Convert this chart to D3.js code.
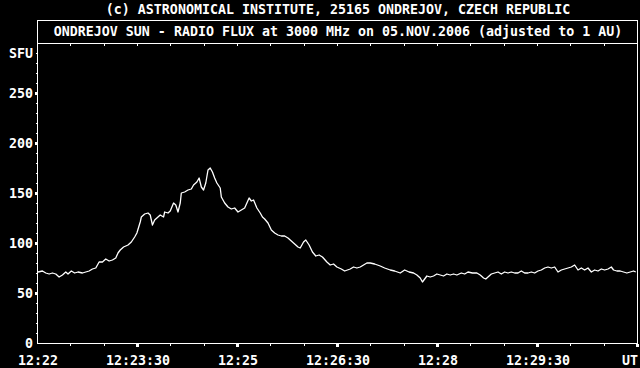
<!DOCTYPE html>
<html>
<head>
<meta charset="utf-8">
<script src="https://cdn.jsdelivr.net/npm/d3@7"></script>
<style>
  html, body { margin: 0; padding: 0; background: #000; }
  #container { width: 640px; height: 368px; overflow: hidden; }
  text { font-family: "DejaVu Sans Mono", "Liberation Mono", monospace; font-size: 13.3px; font-weight: bold; fill: #fff; }
</style>
</head>
<body>
<div id="container"></div>
<script>
// seconds after 12:22:00 UT
const seconds = [0, 4, 7, 10, 13, 16, 19, 22, 25, 27, 30, 33, 36, 40, 43, 46, 49, 52, 55, 58,
  61, 64, 67, 70, 72, 74, 77, 81, 84, 87, 89, 92, 93, 96, 99, 101, 103, 105, 108, 110,
  113, 114, 117, 119, 122, 124, 126, 128, 129, 132, 135, 138, 140, 143, 145, 147, 149, 151, 153, 155,
  157, 159, 161, 164, 165, 168, 171, 174, 177, 180, 183, 186, 188, 190, 192, 194, 197, 200, 202, 204,
  207, 210, 213, 216, 219, 222, 225, 228, 231, 234, 236, 239, 241, 244, 247, 250, 253, 256, 260, 263,
  266, 269, 273, 276, 281, 284, 287, 290, 293, 296, 299, 303, 308, 312, 317, 321, 326, 330, 334, 338,
  341, 344, 346, 348, 350, 353, 356, 359, 362, 365, 368, 371, 374, 377, 381, 384, 387, 391, 395, 398,
  401, 403, 405, 408, 411, 414, 417, 420, 423, 426, 429, 432, 435, 438, 441, 444, 447, 450, 453, 456,
  459, 462, 465, 468, 471, 474, 477, 480, 483, 486, 489, 492, 495, 498, 501, 504, 507, 510, 513, 516,
  518, 521, 524, 527, 530, 533, 536, 538];
// radio flux, SFU
const flux = [71, 72, 70, 69, 70, 69, 66, 68, 71, 69, 72, 70, 71, 70, 71, 72, 74, 75, 81, 81,
  84, 82, 83, 85, 90, 93, 96, 98, 101, 106, 110, 121, 126, 129, 130, 128, 118, 123, 126, 128,
  126, 131, 130, 132, 140, 138, 131, 140, 150, 151, 153, 154, 158, 161, 165, 156, 153, 160, 173, 175,
  171, 165, 160, 155, 146, 140, 136, 134, 135, 131, 133, 135, 140, 145, 142, 143, 135, 130, 126, 124,
  120, 113, 110, 108, 107, 107, 105, 102, 99, 96, 95, 101, 103, 98, 91, 87, 88, 86, 81, 78,
  79, 76, 74, 72, 74, 76, 75, 76, 78, 80, 80, 79, 77, 75, 73, 72, 70, 73, 71, 70,
  68, 65, 61, 64, 67, 66, 67, 69, 68, 67, 69, 68, 69, 68, 70, 69, 71, 70, 70, 68,
  65, 64, 66, 69, 70, 71, 69, 71, 70, 71, 70, 70, 72, 70, 70, 71, 70, 72, 73, 75,
  76, 75, 76, 71, 73, 74, 75, 76, 78, 73, 75, 73, 75, 71, 73, 72, 74, 73, 74, 76,
  73, 72, 72, 71, 70, 71, 72, 71];

const yTicks = [0, 50, 100, 150, 200, 250];
const xTickSeconds = [0, 90, 180, 270, 360, 450, 540];
const xTickLabels = ["12:22", "12:23:30", "12:25", "12:26:30", "12:28", "12:29:30", "UT"];

const creditText = "(c) ASTRONOMICAL INSTITUTE, 25165 ONDREJOV, CZECH REPUBLIC";
const titleText = "ONDREJOV SUN - RADIO FLUX at 3000 MHz on 05.NOV.2006 (adjusted to 1 AU)";

const width = 640, height = 368;
const plotLeft = 38, plotRight = 638, plotTop = 43, plotBottom = 343, boxTop = 20;

const svg = d3.select("#container").append("svg")
    .attr("width", width)
    .attr("height", height);

svg.append("rect").attr("width", width).attr("height", height).attr("fill", "#000");

const x = d3.scaleLinear().domain([0, 540]).range([plotLeft, plotRight]);
const y = d3.scaleLinear().domain([0, 300]).range([plotBottom, plotTop]);

// frame: title box + plot box
const frame = svg.append("g")
    .attr("stroke", "#fff")
    .attr("fill", "none")
    .attr("shape-rendering", "crispEdges");

frame.append("rect")
    .attr("x", plotLeft - 0.5).attr("y", boxTop + 0.5)
    .attr("width", plotRight - plotLeft).attr("height", plotBottom - boxTop);

frame.append("line")
    .attr("x1", plotLeft - 0.5).attr("x2", plotRight - 0.5)
    .attr("y1", plotTop + 0.5).attr("y2", plotTop + 0.5);

// credits and title
svg.append("text")
    .attr("x", (plotLeft + plotRight) / 2).attr("y", 13.5)
    .attr("text-anchor", "middle")
    .text(creditText);

svg.append("text")
    .attr("x", (plotLeft + plotRight) / 2).attr("y", 36)
    .attr("text-anchor", "middle")
    .text(titleText);

const ticks = svg.append("g").attr("fill", "#fff").attr("shape-rendering", "crispEdges");

// y minor ticks every 10 SFU
ticks.selectAll(".ym")
    .data(d3.range(0, 301, 10).filter(v => v % 50 !== 0))
    .enter().append("rect")
    .attr("x", plotLeft - 2).attr("y", d => Math.round(y(d)))
    .attr("width", 1).attr("height", 1);

// y major ticks
ticks.selectAll(".yM")
    .data(yTicks.filter(v => v > 0))
    .enter().append("rect")
    .attr("x", plotLeft - 3).attr("y", d => Math.round(y(d)) - 1)
    .attr("width", 2).attr("height", 3);

// x minor ticks every 30 s (bottom and top)
const xMinor = d3.range(30, 540, 30).filter(s => s % 90 !== 0);
ticks.selectAll(".xm")
    .data(xMinor)
    .enter().append("rect")
    .attr("x", d => Math.round(x(d)) - 1).attr("y", plotBottom + 1)
    .attr("width", 1).attr("height", 2);

ticks.selectAll(".xt")
    .data(d3.range(30, 540, 30))
    .enter().append("rect")
    .attr("x", d => Math.round(x(d)) - 1).attr("y", plotTop + 1)
    .attr("width", 1).attr("height", 2);

// x major ticks
ticks.selectAll(".xM")
    .data(xTickSeconds.filter(s => s > 0))
    .enter().append("rect")
    .attr("x", d => Math.round(x(d)) - 2).attr("y", plotBottom + 1)
    .attr("width", 3).attr("height", 3);

// y labels
svg.append("g").selectAll("text")
    .data(yTicks)
    .enter().append("text")
    .attr("x", 33).attr("y", d => y(d) + 4.5)
    .attr("text-anchor", "end")
    .text(d => d);

svg.append("text")
    .attr("x", 33).attr("y", 57.5)
    .attr("text-anchor", "end")
    .text("SFU");

// x labels
svg.append("g").selectAll("text")
    .data(xTickSeconds)
    .enter().append("text")
    .attr("x", d => x(d))
    .attr("y", 365)
    .attr("text-anchor", (d, i) => i === xTickSeconds.length - 1 ? "end" : "middle")
    .text((d, i) => xTickLabels[i]);

// flux curve
const line = d3.line()
    .x((d, i) => x(seconds[i]))
    .y(d => y(d));

svg.append("path")
    .datum(flux)
    .attr("fill", "none")
    .attr("stroke", "#fff")
    .attr("stroke-width", 1.3)
    .attr("stroke-linejoin", "round")
    .attr("d", line);
</script>
</body>
</html>
